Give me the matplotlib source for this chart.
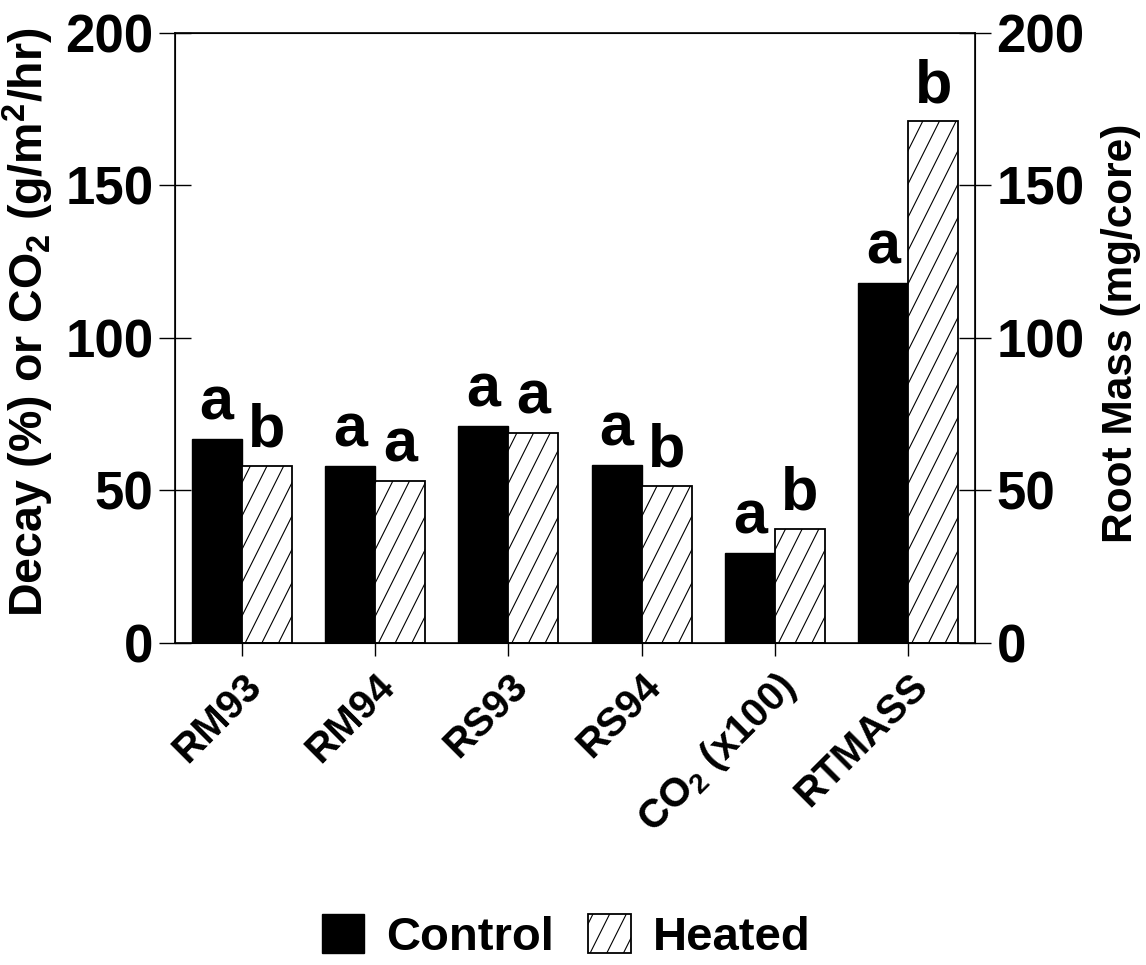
import numpy as np
import matplotlib
matplotlib.use('Agg')
import matplotlib.pyplot as plt
import matplotlib.hatch as mhatch
from matplotlib.path import Path
from matplotlib.patches import Patch

plt.rcParams['font.family'] = ['Liberation Sans', 'DejaVu Sans']
plt.rcParams['font.weight'] = 'bold'
plt.rcParams['mathtext.fontset'] = 'custom'
plt.rcParams['mathtext.rm'] = 'Liberation Sans:bold'
plt.rcParams['mathtext.it'] = 'Liberation Sans:bold'
plt.rcParams['mathtext.bf'] = 'Liberation Sans:bold'
plt.rcParams['hatch.linewidth'] = 0.8


# the original hatch is steeper than matplotlib's 45 degree '/'
class SteepHatch(mhatch.HatchPatternBase):
    def __init__(self, hatch, density):
        self.num_lines = int((hatch.count('/') + hatch.count('x') + hatch.count('X')) * density)
        self.num_vertices = (2 * self.num_lines + 1) * 2 if self.num_lines else 0

    def set_vertices_and_codes(self, vertices, codes):
        n = self.num_lines
        c = np.arange(-n, n + 1) / n
        vertices[0::2, 0] = c - 0.05
        vertices[0::2, 1] = -0.1
        vertices[1::2, 0] = c + 0.55
        vertices[1::2, 1] = 1.1
        codes[0::2] = Path.MOVETO
        codes[1::2] = Path.LINETO


mhatch._hatch_types[mhatch._hatch_types.index(mhatch.NorthEastHatch)] = SteepHatch

# data
categories = ['RM93', 'RM94', 'RS93', 'RS94', 'CO$_2$ (x100)', 'RTMASS']
control = [67, 58, 71, 58.5, 29.5, 118]
heated = [58, 53, 69, 51.5, 37.5, 171]
control_letters = ['a', 'a', 'a', 'a', 'a', 'a']
heated_letters = ['b', 'a', 'a', 'b', 'b', 'b']

fig = plt.figure(figsize=(11.46, 9.65), dpi=100)
ax = fig.add_axes([0.1527, 0.3337, 0.6981, 0.6321])

x = np.arange(len(categories))
w = 0.376
ax.bar(x - w / 2, control, w, color='black', edgecolor='black', linewidth=1, label='Control')
ax.bar(x + w / 2, heated, w, color='white', edgecolor='black', linewidth=1.3,
       hatch='/', label='Heated')

# significance letters above each bar
for i in range(len(categories)):
    ax.annotate(control_letters[i], (x[i] - w / 2, control[i]), xytext=(0, 14),
                textcoords='offset points', ha='center', va='baseline',
                fontsize=44, fontweight='bold')
    ax.annotate(heated_letters[i], (x[i] + w / 2, heated[i]), xytext=(0, 14),
                textcoords='offset points', ha='center', va='baseline',
                fontsize=44, fontweight='bold')

ax.set_xlim(-0.5, len(categories) - 0.5)
ax.set_ylim(0, 200)
ax.set_yticks([0, 50, 100, 150, 200])
ax.tick_params(axis='y', direction='inout', length=23, width=1, labelsize=38, pad=4)
ax.set_xticks(x)
ax.set_xticklabels(categories, rotation=45, ha='right', rotation_mode='anchor')
ax.tick_params(axis='x', direction='out', length=9, width=1, labelsize=29, pad=8)
for lab in ax.get_yticklabels() + ax.get_xticklabels():
    lab.set_fontweight('bold')
for s in ax.spines.values():
    s.set_linewidth(1.2)

ax.set_ylabel('Decay (%) or CO$_2$ (g/m$^2$/hr)', fontsize=33.5, fontweight='bold')
ax.yaxis.set_label_coords(-0.149, 0.526)

ax2 = ax.twinx()
ax2.set_ylim(0, 200)
ax2.set_yticks([0, 50, 100, 150, 200])
ax2.tick_params(axis='y', direction='inout', length=23, width=1, labelsize=38, pad=4)
for lab in ax2.get_yticklabels():
    lab.set_fontweight('bold')
ax2.set_ylabel('Root Mass (mg/core)', fontsize=30.5, fontweight='bold')
ax2.yaxis.set_label_coords(1.158, 0.508)

handles = [Patch(facecolor='black', edgecolor='black', label='Control'),
           Patch(facecolor='white', edgecolor='black', linewidth=1.3, hatch='/', label='Heated')]
fig.legend(handles=handles, loc='center', bbox_to_anchor=(0.494, 0.029), ncol=2,
           frameon=False, prop={'size': 34, 'weight': 'bold'},
           handlelength=0.9, handleheight=0.9, handletextpad=0.47,
           columnspacing=0.72)

fig.savefig('out.png', dpi=100)
